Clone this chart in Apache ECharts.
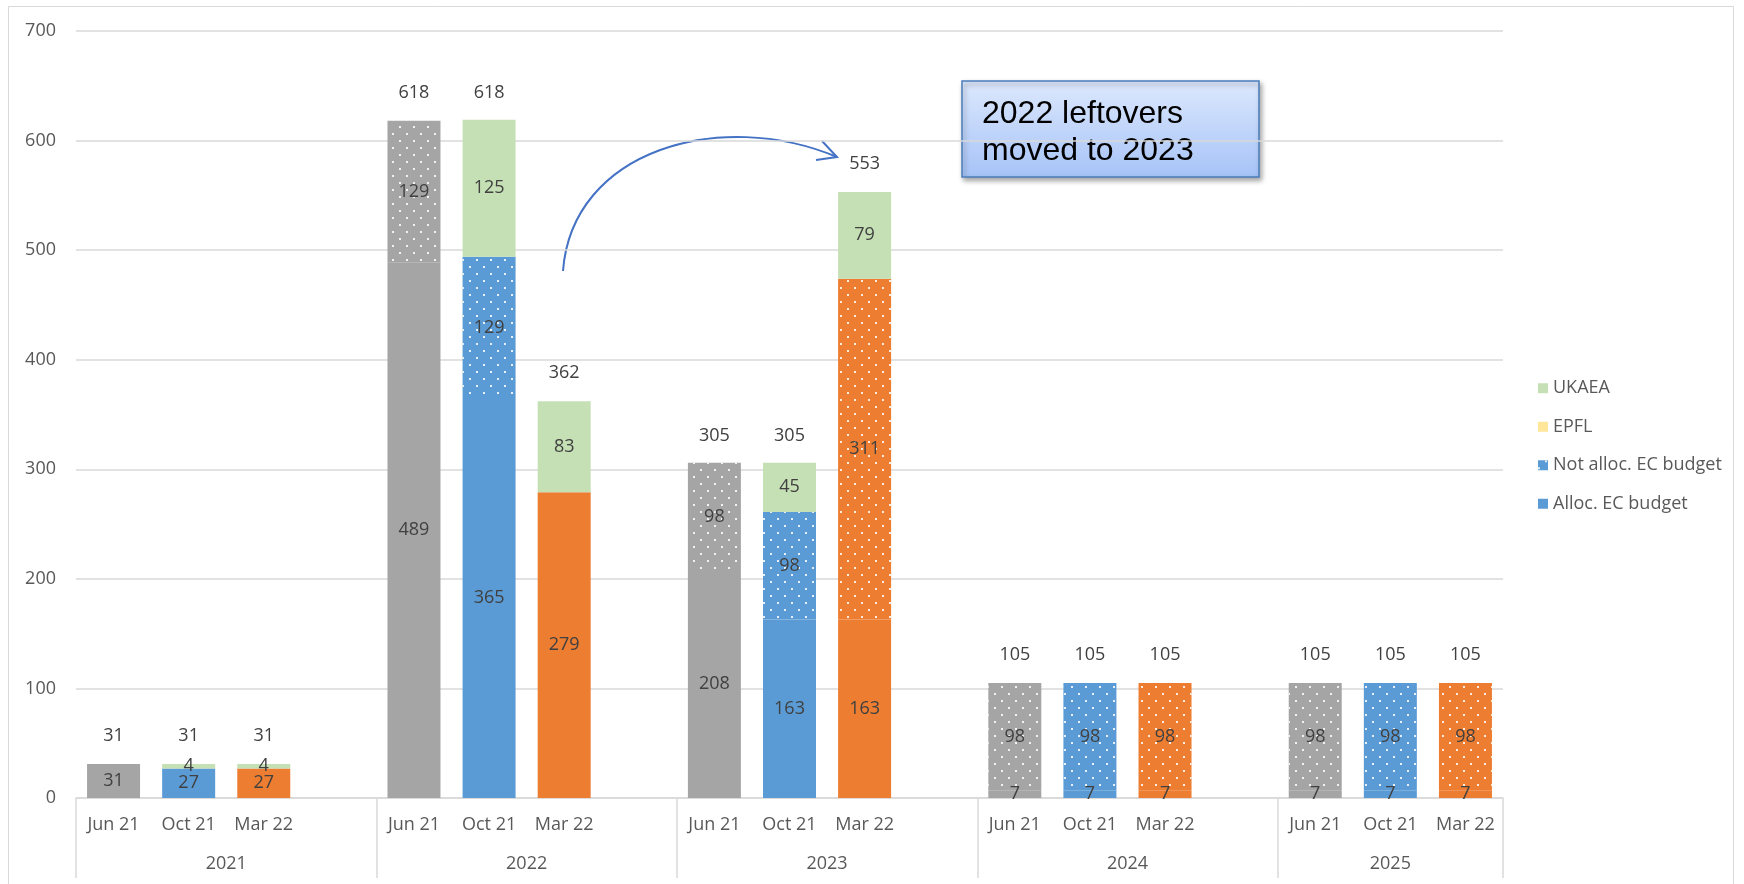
<!DOCTYPE html>
<html>
<head>
<meta charset="utf-8">
<title>EC budget per year</title>
<script src="https://cdn.jsdelivr.net/npm/echarts@6/dist/echarts.min.js"></script>
<style>
  html, body { margin: 0; padding: 0; background: #fff; }
  #chart { width: 1744px; height: 884px; }
</style>
</head>
<body>
<div id="chart"></div>
<script>
// years (outer axis) and budget versions (inner axis)
const groups = ['2021', '2022', '2023', '2024', '2025']
const months = ['Jun 21', 'Oct 21', 'Mar 22']
const monthColors = ['#a5a5a5', '#5b9bd5', '#ed7d31']

// values per year, per version (Jun 21, Oct 21, Mar 22)
const allocEC = [[31, 27, 27], [489, 365, 279], [208, 163, 163], [7, 7, 7], [7, 7, 7]]
const notAllocEC = [[0, 0, 0], [129, 129, 0], [98, 98, 311], [98, 98, 98], [98, 98, 98]]
const epfl = [[0, 0, 0], [0, 0, 0], [0, 0, 0], [0, 0, 0], [0, 0, 0]]
const ukaea = [[0, 4, 4], [0, 125, 83], [0, 45, 79], [0, 0, 0], [0, 0, 0]]
const totals = [[31, 31, 31], [618, 618, 362], [305, 305, 553], [105, 105, 105], [105, 105, 105]]

const yTicks = [0, 100, 200, 300, 400, 500, 600, 700]

// build the flat category list, with an empty slot between years (like Excel)
const categories = []
const slotOf = [] // [group, month] or null for the gap
groups.forEach((g, gi) => {
  months.forEach((m, mi) => { categories.push(m); slotOf.push([gi, mi]) })
  if (gi < groups.length - 1) { categories.push(''); slotOf.push(null) }
})
// group boundaries / centers on the slot scale
const bounds = [0]
const centers = []
let pos = 0
groups.forEach((g, gi) => {
  const w = months.length + (gi < groups.length - 1 ? 1 : 0)
  centers.push(pos + w / 2)
  pos += w
  bounds.push(pos)
})

function build(src, colored) {
  return slotOf.map(s => {
    if (!s) return '-'
    const v = src[s[0]][s[1]]
    if (!v) return '-'
    return colored ? { value: v, itemStyle: { color: monthColors[s[1]] } } : v
  })
}

const FONT = 'Open Sans'
const dots = {
  symbol: 'rect',
  symbolSize: 1,
  color: 'rgba(255,255,255,0.85)',
  dashArrayX: [[2, 12], [0, 7, 2, 5]],
  dashArrayY: [2, 5],
  rotation: 0
}
const segLabel = {
  show: true,
  position: 'inside',
  color: '#404040',
  fontFamily: FONT,
  fontSize: 18,
  formatter: p => p.value
}
const BW = 53

const chart = echarts.init(document.getElementById('chart'))
chart.setOption({
  animation: false,
  backgroundColor: '#fff',
  textStyle: { fontFamily: FONT },
  grid: { left: 76, right: 241, top: 31, bottom: 86 },
  legend: {
    orient: 'vertical',
    left: 1538,
    top: 378,
    padding: 0,
    itemWidth: 10,
    itemHeight: 10,
    itemGap: 18,
    icon: 'rect',
    data: ['UKAEA', 'EPFL', 'Not alloc. EC budget', 'Alloc. EC budget'],
    textStyle: { color: '#595959', fontSize: 18, lineHeight: 20.5, fontFamily: FONT }
  },
  xAxis: [
    {
      type: 'category',
      data: categories,
      axisLine: { lineStyle: { color: '#d9d9d9', width: 1.5 } },
      axisTick: { show: false },
      axisLabel: { interval: 0, color: '#595959', fontSize: 18, margin: 18, fontFamily: FONT }
    },
    {
      type: 'value',
      min: 0,
      max: categories.length,
      position: 'bottom',
      axisLine: { show: false },
      splitLine: { show: false },
      axisTick: { show: true, customValues: bounds, length: 80, lineStyle: { color: '#d9d9d9', width: 1.5 } },
      axisLabel: {
        customValues: centers,
        color: '#595959',
        fontSize: 18,
        margin: 57,
        fontFamily: FONT,
        formatter: v => {
          const i = centers.findIndex(c => Math.abs(c - v) < 0.01)
          return i >= 0 ? groups[i] : ''
        }
      }
    }
  ],
  yAxis: {
    type: 'value',
    min: yTicks[0],
    max: yTicks[yTicks.length - 1],
    interval: yTicks[1] - yTicks[0],
    axisLine: { show: false },
    axisTick: { show: false },
    splitLine: { lineStyle: { color: '#d9d9d9', width: 1.5 } },
    axisLabel: { color: '#595959', fontSize: 18, margin: 20, fontFamily: FONT }
  },
  series: [
    {
      name: 'Alloc. EC budget', type: 'bar', stack: 'b', barWidth: BW,
      itemStyle: { color: '#5b9bd5' },
      label: segLabel,
      data: build(allocEC, true)
    },
    {
      name: 'Not alloc. EC budget', type: 'bar', stack: 'b', barWidth: BW,
      itemStyle: { color: '#5b9bd5', decal: dots },
      label: segLabel,
      data: build(notAllocEC, true)
    },
    {
      name: 'EPFL', type: 'bar', stack: 'b', barWidth: BW,
      itemStyle: { color: '#ffe699' },
      label: segLabel,
      data: build(epfl, false)
    },
    {
      name: 'UKAEA', type: 'bar', stack: 'b', barWidth: BW,
      itemStyle: { color: '#c5e0b4' },
      label: segLabel,
      data: build(ukaea, false)
    },
    {
      name: 'Total', type: 'bar', barWidth: BW, barGap: '-100%',
      itemStyle: { color: 'rgba(0,0,0,0)' },
      silent: true,
      label: { show: true, position: 'top', distance: 19, color: '#404040', fontSize: 18, fontFamily: FONT },
      data: build(totals, false)
    }
  ],
  graphic: [
    // chart frame
    { type: 'rect', shape: { x: 8.5, y: 6.5, width: 1725, height: 900 }, style: { fill: 'none', stroke: '#d9d9d9', lineWidth: 1 }, silent: true },
    // arrow 2022 -> 2023
    {
      type: 'bezierCurve',
      shape: { x1: 563, y1: 271, cpx1: 572, cpy1: 150, cpx2: 720, cpy2: 108, x2: 837, y2: 157 },
      style: { stroke: '#4472c4', lineWidth: 2, fill: 'none' }
    },
    {
      type: 'polyline',
      shape: { points: [[822, 141], [837, 157], [816, 160]] },
      style: { stroke: '#4472c4', lineWidth: 2, fill: 'none' }
    },
    // annotation box
    {
      type: 'rect',
      shape: { x: 962, y: 81, width: 297, height: 96 },
      style: {
        fill: new echarts.graphic.LinearGradient(0, 0, 0, 1, [
          { offset: 0, color: '#dde8fd' },
          { offset: 1, color: '#a6c3f7' }
        ]),
        stroke: '#4a7ebb',
        lineWidth: 1.5,
        shadowBlur: 5,
        shadowOffsetX: 2,
        shadowOffsetY: 3,
        shadowColor: 'rgba(0,0,0,0.35)'
      }
    },
    {
      type: 'text',
      style: {
        text: '2022 leftovers\nmoved to 2023',
        x: 982, y: 133,
        verticalAlign: 'middle',
        font: '32px "Liberation Sans", Arial, sans-serif',
        lineHeight: 37,
        fill: '#000'
      }
    }
  ]
})
</script>
</body>
</html>
